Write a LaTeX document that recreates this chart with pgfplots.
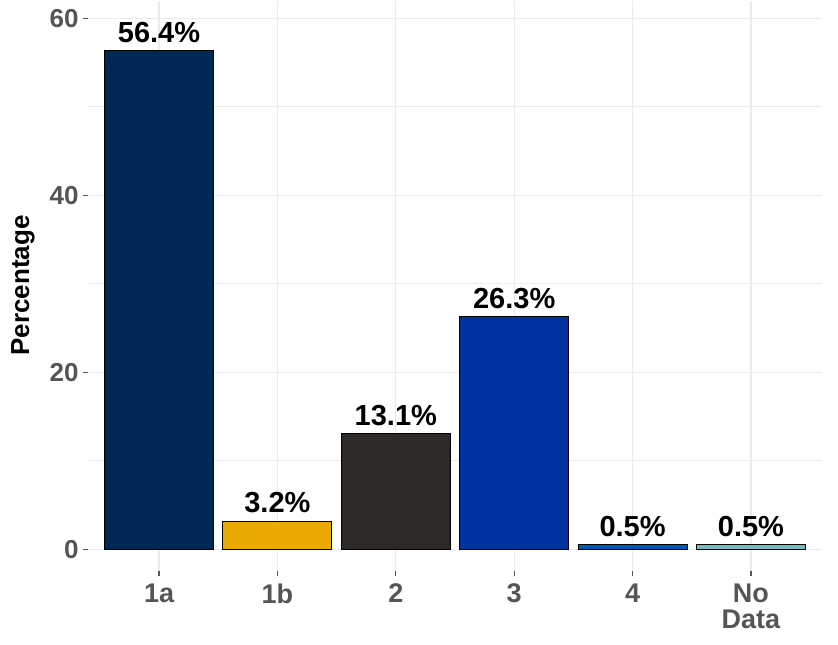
\documentclass[border=0pt]{standalone}
\usepackage{pgfplots}
\pgfplotsset{compat=1.18}
\usepackage{fontspec}
\setmainfont{Liberation Sans}
\definecolor{c1a}{HTML}{002855}
\definecolor{c1b}{HTML}{EAAA00}
\definecolor{c2}{HTML}{2D2926}
\definecolor{c3}{HTML}{0033A0}
\definecolor{c4}{HTML}{0057B8}
\definecolor{cnd}{HTML}{7BB8C2}
\definecolor{gridc}{HTML}{EBEBEB}
\definecolor{tickc}{HTML}{555555}
\pgfplotsset{barlab/.style={ybar, bar width=0.92, draw=black, line width=1pt,
  nodes near coords, nodes near coords style={font=\fontsize{29}{30}\selectfont\bfseries, text=black, anchor=south, yshift=4pt},
  point meta=explicit symbolic}}
\begin{document}
\begin{tikzpicture}
\begin{axis}[
  name=ax,
  scale only axis,
  width=734pt, height=570pt,
  xmin=-0.6, xmax=5.6,
  ymin=-2.4, ymax=62,
  axis line style={draw=none},
  xtick={0,1,2,3,4,5},
  xticklabels={1a,1b,2,3,4,{No\\Data}},
  xticklabel style={align=center, font=\fontsize{27}{26}\selectfont\bfseries, text=tickc, yshift=-5pt},
  ytick={0,20,40,60},
  minor ytick={10,30,50},
  yticklabel style={font=\fontsize{26}{28}\selectfont\bfseries, text=tickc, xshift=-1pt},
  /pgf/number format/assume math mode=true,
  tick style={draw=tickc, line width=1.2pt},
  major tick length=5pt,
  tick align=outside,
  xtick pos=bottom, ytick pos=left,
  minor tick length=0pt,
  grid=both,
  major grid style={draw=gridc, line width=1.2pt},
  minor grid style={draw=gridc, line width=0.7pt},
  ylabel={Percentage},
  ylabel style={font=\fontsize{26}{28}\selectfont\bfseries, text=black, at={(ticklabel cs:0.5)}, anchor=south, yshift=8pt},
  clip=false,
]
\addplot[barlab, fill=c1a] coordinates {(0,56.4) [56.4\%]};
\addplot[barlab, fill=c1b] coordinates {(1,3.2) [3.2\%]};
\addplot[barlab, fill=c2] coordinates {(2,13.1) [13.1\%]};
\addplot[barlab, fill=c3] coordinates {(3,26.3) [26.3\%]};
\addplot[barlab, fill=c4] coordinates {(4,0.5) [0.5\%]};
\addplot[barlab, fill=cnd] coordinates {(5,0.5) [0.5\%]};
\end{axis}
\path (ax.south west) +(-88pt,-74pt) (ax.north east) +(16pt,0pt);
\end{tikzpicture}
\end{document}
